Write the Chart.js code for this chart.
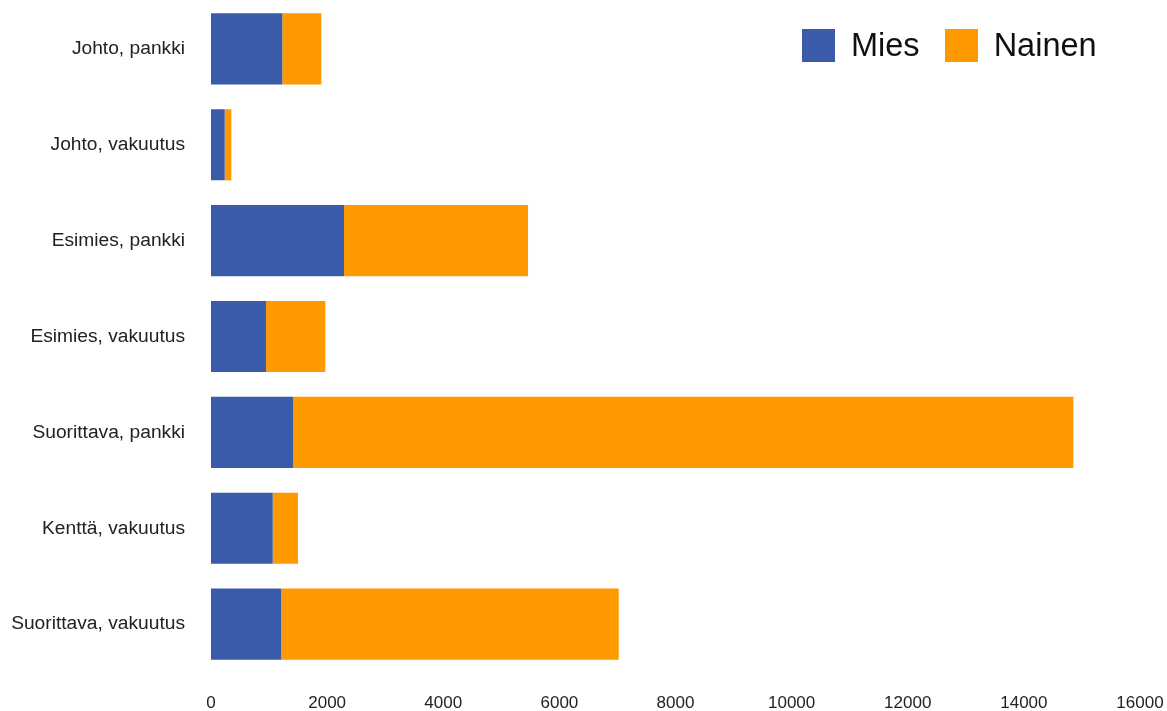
<!DOCTYPE html>
<html>
<head>
<meta charset="utf-8">
<script src="https://cdn.jsdelivr.net/npm/chart.js@4/dist/chart.umd.min.js"></script>
<style>
  html, body { margin: 0; padding: 0; background: #fff; }
  #wrap { position: relative; width: 1167px; height: 711px; }
  #legend {
    position: absolute; left: 802px; top: 29px; height: 33px;
    display: flex; align-items: center;
    font-family: Arial, "Liberation Sans", sans-serif; font-size: 32.5px; color: #111;
  }
  #legend .item { display: flex; align-items: center; margin-right: 25px; }
  #legend .box { width: 33px; height: 33px; margin-right: 16px; }
</style>
</head>
<body>
<div id="wrap">
  <canvas id="chart" width="1167" height="711"></canvas>
  <div id="legend"></div>
</div>
<script>
// Ryhmät
const categories = ['Johto, pankki', 'Johto, vakuutus', 'Esimies, pankki', 'Esimies, vakuutus',
                    'Suorittava, pankki', 'Kenttä, vakuutus', 'Suorittava, vakuutus'];
// Arvot luettu kuvasta
const mies = [1228, 236, 2291, 947, 1412, 1063, 1206];
const nainen = [672, 114, 3169, 1022, 13440, 435, 5816];
const seriesNames = ['Mies', 'Nainen'];
const xTicks = [0, 2000, 4000, 6000, 8000, 10000, 12000, 14000, 16000];

const colors = ['#3a5ba9', '#ff9900'];

document.addEventListener("DOMContentLoaded", function() {
    const ctx = document.getElementById('chart').getContext('2d');

    const chart = new Chart(ctx, {
        type: 'bar',
        data: {
            labels: categories,
            datasets: [{
                label: seriesNames[0],
                data: mies,
                backgroundColor: colors[0],
                borderWidth: 0
            }, {
                label: seriesNames[1],
                data: nainen,
                backgroundColor: colors[1],
                borderWidth: 0
            }]
        },
        options: {
            indexAxis: 'y',
            responsive: false,
            animation: false,
            barPercentage: 0.742,
            categoryPercentage: 1,
            layout: { padding: { top: 1, right: 27, bottom: 0, left: 0 } },
            plugins: {
                legend: { display: false },
                tooltip: { enabled: false }
            },
            scales: {
                x: {
                    stacked: true,
                    min: 0,
                    max: xTicks[xTicks.length - 1],
                    afterBuildTicks: s => { s.ticks = xTicks.map(v => ({ value: v })); },
                    grid: { display: false, drawTicks: false },
                    border: { display: false },
                    ticks: {
                        padding: 21,
                        color: '#222',
                        font: { family: 'Arial, "Liberation Sans"', size: 17 },
                        callback: v => String(v)
                    },
                    afterFit: s => { s.height = 39; s.paddingLeft = 0; s.paddingRight = 0; }
                },
                y: {
                    stacked: true,
                    grid: { display: false, drawTicks: false },
                    border: { display: false },
                    ticks: {
                        padding: 26,
                        color: '#222',
                        font: { family: 'Arial, "Liberation Sans"', size: 19.2 }
                    },
                    afterFit: s => { s.width = 211; s.paddingTop = 0; s.paddingBottom = 0; }
                }
            }
        }
    });

    // Selite
    const legend = document.getElementById('legend');
    chart.data.datasets.forEach(ds => {
        const item = document.createElement('div');
        item.className = 'item';
        const box = document.createElement('span');
        box.className = 'box';
        box.style.background = ds.backgroundColor;
        const txt = document.createElement('span');
        txt.textContent = ds.label;
        item.appendChild(box);
        item.appendChild(txt);
        legend.appendChild(item);
    });
});
</script>
</body>
</html>
